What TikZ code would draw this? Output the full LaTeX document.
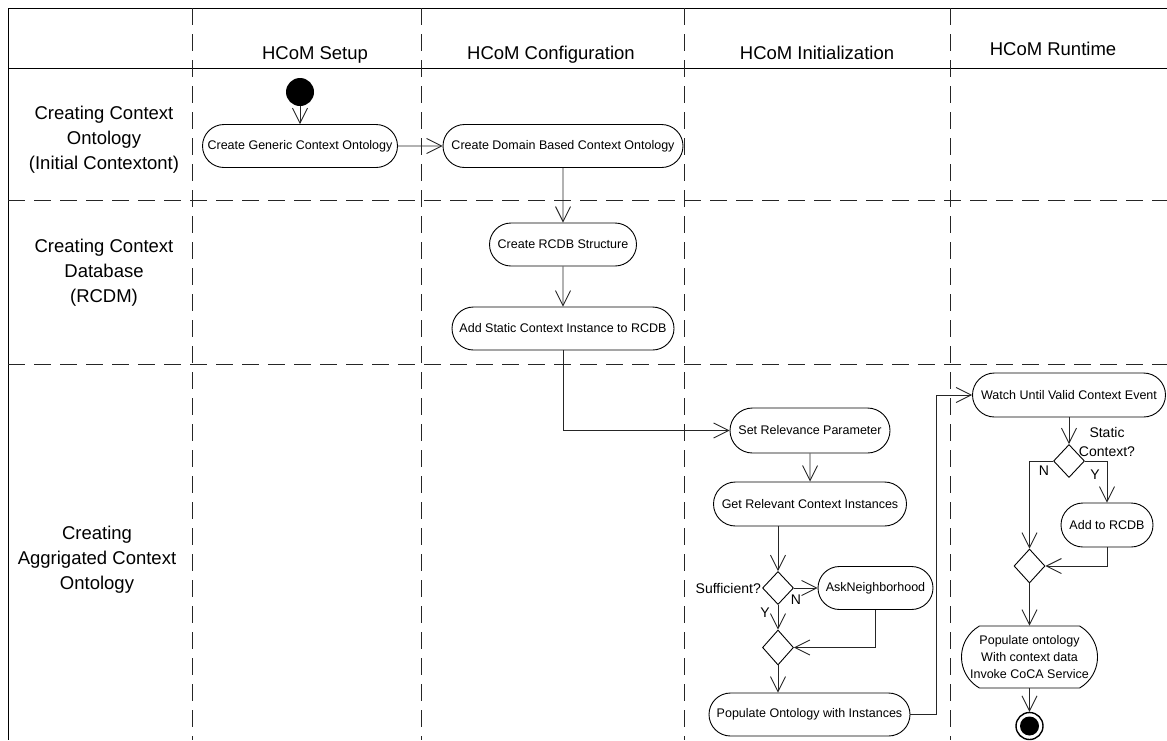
\documentclass[tikz,border=0pt]{standalone}
\usepackage{fontspec}
\setmainfont{Liberation Sans}
\usetikzlibrary{arrows.meta,shapes.geometric,shapes.misc}
\begin{document}
\begin{tikzpicture}[x=1pt,y=-1pt,
  frame/.style={line width=1pt, black},
  lane/.style={line width=1pt, black!85, dash pattern=on 17pt off 9pt},
  head/.style={anchor=base, font=\fontsize{18.5}{22}\selectfont},
  rowlabel/.style={align=center, font=\fontsize{18.5}{25}\selectfont},
  act/.style={draw, line width=0.9pt, rounded rectangle, minimum height=43pt,
    inner sep=0pt, align=center, font=\fontsize{12.5}{16.7}\selectfont},
  dec/.style={draw, diamond, line width=0.9pt, minimum width=31pt,
    minimum height=33pt, inner sep=0pt},
  guard/.style={font=\fontsize{14}{19}\selectfont, align=center, inner sep=0pt},
  arr/.style={draw, line width=0.9pt, black!85,
    -{Straight Barb[length=15pt,width=15pt]}},
  initial/.style={circle, fill=black, minimum size=28pt, inner sep=0pt},
  final/.style={circle, draw, line width=1.4pt, fill=white, minimum size=27pt, inner sep=0pt}
]
\useasboundingbox (0,0) rectangle (1167,740);

% swimlane grid
\draw[frame] (1167,8) -- (8,8) -- (8,740);
\draw[frame] (8,68) -- (1167,68);
\foreach \xx in {192,421,684,950}
  \draw[lane] (\xx,8) -- (\xx,740);
\foreach \yy in {200,364}
  \draw[lane] (8,\yy) -- (1167,\yy);

% column headings
\node[head] (hSetup) at (315,59) {HCoM Setup};
\node[head] (hConf) at (551,59) {HCoM Configuration};
\node[head] (hInit) at (817,59) {HCoM Initialization};
\node[head] (hRun) at (1053,55) {HCoM Runtime};

% row headings
\node[rowlabel] (rOnt) at (104,140) {Creating Context\\Ontology\\(Initial Contextont)};
\node[rowlabel] (rDb) at (104,273) {Creating Context\\Database\\(RCDM)};
\node[rowlabel] (rAgg) at (97,560) {Creating\\Aggrigated Context\\Ontology};

% activities
\node[initial] (start) at (300,92) {};
\node[act, minimum width=195pt] (gen) at (300,146) {Create Generic Context Ontology};
\node[act, minimum width=240pt] (dom) at (563,146) {Create Domain Based Context Ontology};
\node[act, minimum width=147pt] (rcdb) at (563,244.5) {Create RCDB Structure};
\node[act, minimum width=222pt] (addst) at (563,328.5) {Add Static Context Instance to RCDB};
\node[act, minimum width=160pt, minimum height=45pt] (setrel) at (810,430.5) {Set Relevance Parameter};
\node[act, minimum width=193pt, minimum height=44pt] (getrel) at (810,504) {Get Relevant Context Instances};
\node[dec] (d1) at (778,588) {};
\node[act, minimum width=115pt] (ask) at (875.5,588) {AskNeighborhood};
\node[dec, minimum height=35pt] (d2) at (778,647.5) {};
\node[act, minimum width=201pt] (popinst) at (809.5,714.5) {Populate Ontology with Instances};
\node[act, minimum width=193pt, minimum height=44pt] (watch) at (1069,395) {Watch Until Valid Context Event};
\node[dec] (d3) at (1069,461) {};
\node[act, minimum width=92pt, minimum height=44pt] (addr) at (1107,525) {Add to RCDB};
\node[dec, minimum height=34pt] (d4) at (1029.5,566) {};
\node[act, minimum width=136pt, minimum height=62pt, rounded rectangle arc length=120]
  (popont) at (1029.5,657) {Populate ontology\\With context data\\Invoke CoCA Service};
\node[final] (end) at (1029.5,726) {};
\fill (end.center) circle (9.5);

% guard labels
\node[guard, anchor=east] (gSuff) at (761,588) {Sufficient?};
\node[guard] (gN1) at (796,600) {N};
\node[guard] (gY1) at (765,613) {Y};
\node[guard] (gStat) at (1107,442) {Static\\Context?};
\node[guard] (gN2) at (1044,471) {N};
\node[guard] (gY2) at (1095,475) {Y};

% control flow
\coordinate (rise) at (936,550);
\draw[arr] (start) -- (gen);
\draw[arr] (gen) -- (dom);
\draw[arr] (dom) -- (rcdb);
\draw[arr] (rcdb) -- (addst);
\draw[arr] (addst.south) |- (setrel.west);
\draw[arr] (setrel) -- (getrel);
\draw[arr] (d1.north |- getrel.south) -- (d1.north);
\draw[arr] (d1.east) -- (ask.west);
\draw[arr] (d1.south) -- (d2.north);
\draw[arr] (ask.south) |- (d2.east);
\draw[arr] (d2.south) -- (d2.south |- popinst.north);
\draw[arr] (popinst.east) -| (rise) |- (watch.west);
\draw[arr] (watch.south) -- (d3.north);
\draw[arr] (d3.west) -| (d4.north);
\draw[arr] (d3.east) -| (addr.north);
\draw[arr] (addr.south) |- (d4.east);
\draw[arr] (d4.south) -- (popont.north);
\draw[arr] (popont.south) -- (end.north);
\end{tikzpicture}
\end{document}
